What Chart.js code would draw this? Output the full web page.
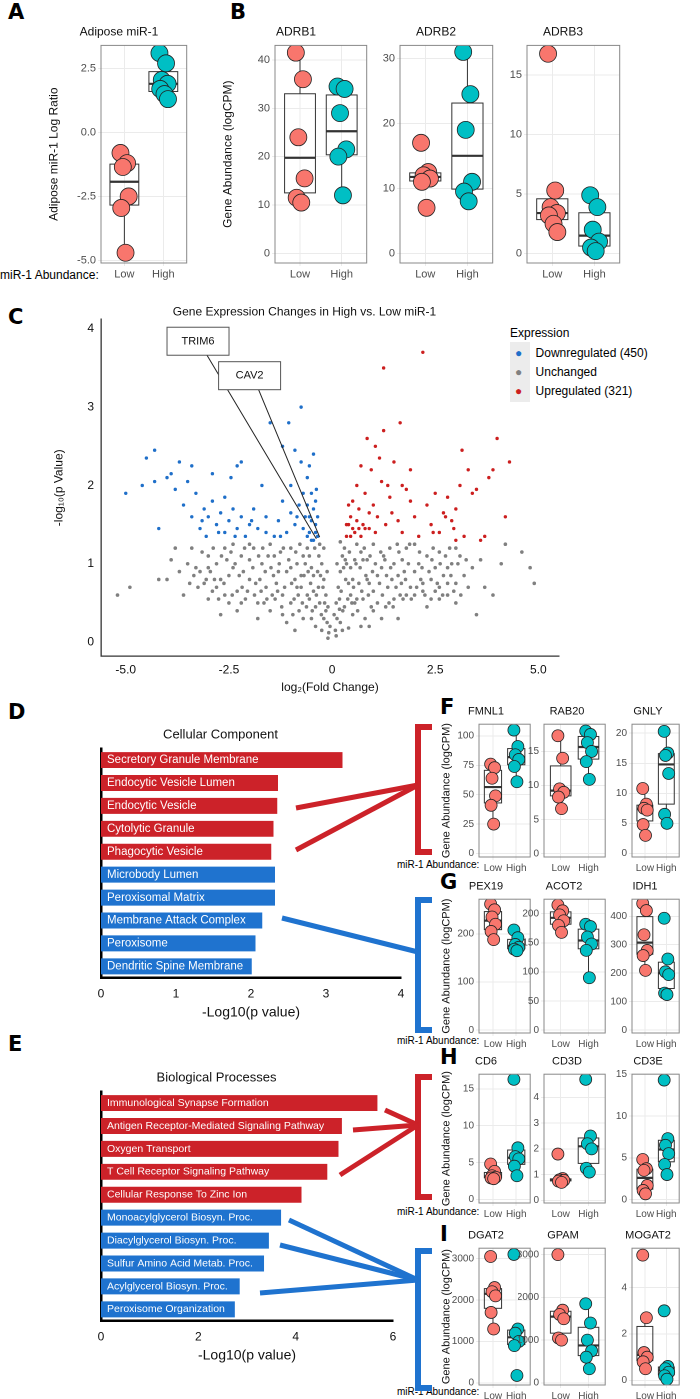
<!DOCTYPE html>
<html>
<head>
<meta charset="utf-8">
<script src="https://cdn.jsdelivr.net/npm/chart.js@4"></script>
<style>
  body { margin:0; width:700px; height:1399px; position:relative; background:#fff; font-family:"Liberation Sans", Arial, sans-serif; overflow:hidden; }
  canvas, .t { position:absolute; }
  .t { white-space:nowrap; color:#000; }
  .L { font-weight:bold; font-size:21px; font-family:"DejaVu Sans", sans-serif; }
</style>
</head>
<body>
<div class="t L" style="left:8px;top:0px">A</div>
<div class="t L" style="left:230px;top:0px">B</div>
<div class="t L" style="left:8px;top:305px">C</div>
<div class="t L" style="left:8px;top:700px">D</div>
<div class="t L" style="left:8px;top:1032px">E</div>
<div class="t L" style="left:440px;top:695px">F</div>
<div class="t L" style="left:440px;top:870px">G</div>
<div class="t L" style="left:440px;top:1045px">H</div>
<div class="t L" style="left:440px;top:1222px">I</div>
<div class="t" style="left:0px;top:268px;font-size:12px">miR-1 Abundance:</div>
<div class="t" style="left:397px;top:859px;font-size:10px">miR-1 Abundance:</div>
<div class="t" style="left:397px;top:1035px;font-size:10px">miR-1 Abundance:</div>
<div class="t" style="left:397px;top:1206px;font-size:10px">miR-1 Abundance:</div>
<div class="t" style="left:397px;top:1386px;font-size:10px">miR-1 Abundance:</div>
<!-- volcano legend -->
<div class="t" style="left:510px;top:326px;font-size:12px">Expression</div>
<div style="position:absolute;left:510px;top:342px;width:20px;height:60px;background:#ececec"></div>
<div class="t" style="left:515px;top:344px;font-size:12px;line-height:19px">
  <span style="color:#1f6fc9">&#9679;</span>&nbsp;&nbsp;&nbsp; Downregulated (450)<br>
  <span style="color:#808080">&#9679;</span>&nbsp;&nbsp;&nbsp; Unchanged<br>
  <span style="color:#cc1f1f">&#9679;</span>&nbsp;&nbsp;&nbsp; Upregulated (321)
</div>
<canvas id="deco" width="700" height="1399" style="left:0;top:0"></canvas>
<script>
// ---- box plot data (Low / High groups) ----
const groups = ['Low', 'High'];
const mir1Low = [-0.8, -1.2, -1.35, -2.5, -2.95, -4.7];
const mir1High = [3.1, 2.7, 2.05, 1.9, 1.7, 1.5, 1.3];
const adrb1Low = [41.5, 36, 24, 15.5, 11.5, 10.5];
const adrb1High = [34.5, 34, 29, 21.5, 20, 12];
const adrb2Low = [17, 12.5, 12, 11.5, 11, 7];
const adrb2High = [31, 24.5, 19, 11, 9.5, 8];
const adrb3Low = [16.8, 5.3, 3.9, 3.4, 3.2, 2.5, 1.8];
const adrb3High = [4.9, 3.9, 2, 1, 0.5, 0.2];
const fmnl1Low = [76, 73, 64, 49, 41, 25];
const fmnl1High = [105, 91, 84, 80, 74, 61];
const rab20Low = [17.3, 14, 9.5, 9, 8.3, 6.6];
const rab20High = [18, 17.5, 16.3, 15, 13.5, 10.9];
const gnlyLow = [10.8, 8.2, 7.5, 7.2, 4.8, 3];
const gnlyHigh = [20.3, 16.7, 16.3, 13.3, 6.5, 5];
const pex19Low = [262, 250, 235, 220, 205, 188];
const pex19High = [208, 192, 178, 172, 168, 165];
const acot2Low = [215, 205, 198, 188, 180, 168];
const acot2High = [182, 178, 160, 148, 137, 90];
const idh1Low = [445, 420, 335, 280, 262, 210];
const idh1High = [393, 250, 205, 195, 130, 125];
const cd6Low = [4.8, 3.8, 3.2, 3, 2.9, 2.8];
const cd6High = [16.3, 7, 5.8, 5.5, 4.5, 3.2];
const cd3dLow = [1.8, 0.85, 0.8, 0.78, 0.75, 0.7];
const cd3dHigh = [4.7, 2.5, 2.2, 2, 1.25, 1.1];
const cd3eLow = [4.8, 3.7, 3.5, 1.7, 1.1, 0.7];
const cd3eHigh = [14.3, 7.3, 6.5, 5.5, 4.2, 3];
const dgat2Low = [3050, 2300, 2200, 2100, 1700, 1300];
const dgat2High = [3100, 1300, 1200, 1000, 900, 180];
const gpamLow = [3000, 1700, 1600, 1500, 1050, 1000];
const gpamHigh = [1850, 1400, 1000, 750, 600, 330];
const mogat2Low = [5.4, 2.7, 1.2, 1.0, 0.8, 0.5];
const mogat2High = [3, 0.6, 0.5, 0.35, 0.2, 0.05];

// ---- volcano data [log2FC, -log10 p] ----
const unchangedPts = [-0.1,0.05, 0.1,0.08, -0.2,0.3, 0.2,0.25, -0.15,0.6, 0.15,0.7, -0.25,1.0, 0.25,1.1, -0.3,1.25, 0.3,1.2, -0.05,0.2, 0.05,0.35, -0.2,0.8, 0.2,0.9, -0.3,0.5, 0.3,0.45, -0.4,0.2, 0.4,0.18, -0.35,0.9, 0.35,1.0,
  -0.5,0.3, 0.5,0.35, -0.6,0.6, 0.6,0.55, -0.7,1.1, 0.7,1.15, -0.8,0.4, 0.8,0.3, -0.9,0.8, 0.9,0.75, -1.0,1.2, 1.0,1.25, -1.1,0.25, 1.1,0.5, -1.2,0.6, 1.2,0.95, -1.3,0.9, 1.3,0.45, -1.4,1.1, 1.4,1.2,
  -1.5,0.4, 1.5,0.55, -1.6,0.7, 1.6,0.85, -1.7,1.0, 1.7,1.05, -1.8,0.5, 1.8,0.6, -1.9,1.2, 1.9,0.7, -2.0,0.8, 2.0,0.9, -2.1,0.55, 2.1,1.0, -2.2,1.1, 2.2,0.65, -2.3,0.65, 2.3,1.1, -2.4,0.95, 2.4,0.8,
  -2.5,0.5, 2.5,0.95, -2.6,1.2, 2.6,0.7, -2.7,0.8, 2.7,0.85, -2.8,1.0, 2.8,0.6, -2.9,0.65, 2.9,1.0, -3.0,1.1, 3.0,0.75, -3.2,0.9, 3.1,1.1, -3.4,1.2, 3.3,0.7, -3.6,0.6, 3.5,0.35, -3.8,1.2, 3.7,0.7,
  -4.0,0.8, 3.9,0.6, -4.2,0.8, 4.1,1.0, -4.9,0.7, 4.2,1.25, -5.2,0.6, 4.6,1.15, -1.8,0.3, 4.8,0.95, 4.9,0.75, -2.7,0.35, 1.6,0.3, -0.9,0.15, 0.9,0.2, -1.5,1.25, 1.5,1.0, -0.5,0.95, 0.5,0.8, -0.6,1.2,
  0.6,1.25, -0.7,0.3, 0.7,0.2, -1.2,0.35, 1.2,0.3, 2.3,0.45, -2.3,0.4, -0.45,0.65, 0.45,0.6, -0.25,0.15, 0.25,0.15, -1.0,0.5, 1.0,0.65, -2.0,1.25, 2.0,1.25, 1.8,1.2, -3.0,0.55, 3.0,0.5, -0.85,1.0, 0.85,1.05,
  -1.35,0.75, 1.35,0.7, -1.65,0.5, 1.65,0.6, 2.6,0.55, -2.5,0.85, -3.3,0.95, 3.4,0.95, -0.1,0.45, 0.1,0.5, -0.12,0.9, 0.12,1.0, -0.2,1.2, 0.2,1.28, -0.4,0.45, 0.4,0.75, -0.55,1.1, 0.55,1.05, -0.75,0.7, 0.75,0.55,
  -0.95,0.35, 0.95,0.45, -1.1,0.9, 1.1,0.85, -1.25,1.15, 1.25,1.1, -1.45,0.6, 1.45,0.8, -1.75,0.8, 1.75,0.9, -2.15,0.9, 2.15,0.8, -2.45,1.15, 2.45,1.2, -2.85,0.8, 2.85,1.2, -3.1,0.75, 3.2,0.85, -3.5,1.0, 3.6,1.05,
  -0.15,0.4, 0.18,0.42, -0.22,0.7, 0.22,0.65, -0.28,0.85, 0.28,0.95, -0.32,1.1, 0.32,1.05, -0.38,0.6, 0.38,0.55, -0.42,1.2, 0.42,1.15, -0.48,0.4, 0.48,0.5, -0.52,0.75, 0.52,0.7, -0.58,0.9, 0.58,1.0, -0.62,0.45, 0.62,0.4,
  -0.68,0.85, 0.68,0.95, -0.72,0.5, 0.72,0.65, -0.78,1.25, 0.78,1.2, -0.82,0.6, 0.82,0.85, -0.88,1.15, 0.88,0.6, -0.92,0.55, 0.92,1.1, -0.98,0.75, 0.98,0.9, -1.05,1.05, 1.05,1.0, -1.15,0.7, 1.15,0.75, -1.22,0.45, 1.22,0.6,
  -1.28,1.0, 1.28,1.05, -1.38,0.55, 1.38,0.5, -1.42,0.85, 1.42,0.95, -1.55,1.1, 1.55,0.7, -1.62,0.9, 1.62,1.15, -1.72,0.65, 1.72,0.55, -1.78,1.1, 1.78,0.8, -1.85,0.75, 1.85,1.0, -1.92,0.95, 1.92,0.55, -2.05,0.65, 2.05,0.7,
  -2.12,1.2, 2.12,1.15, -2.18,0.7, 2.18,0.95, -2.25,0.85, 2.25,0.6, -2.35,1.0, 2.35,0.9, -2.42,0.6, 2.42,1.05, -2.55,1.05, 2.55,0.75, -2.62,0.75, 2.62,1.0, -2.68,1.1, 2.68,0.6, -2.75,0.55, 2.75,1.1, -2.88,1.2, 2.88,0.85,
  -2.95,0.9, 2.95,0.65, -3.05,0.8, 3.05,1.0, -3.15,1.15, 3.12,0.6, -3.25,0.7, 3.25,1.05, -3.35,0.85, 2.5,0.65, -3.45,0.75, 2.8,0.75, -3.7,0.9, -3.9,1.05, -0.08,0.12, 0.08,0.15, -0.12,0.25, 0.12,0.3, -0.18,0.5, 0.18,0.55,
  -0.26,0.35, 0.26,0.4, -0.33,0.7, 0.33,0.8, -0.45,0.85, 0.45,0.95, -0.55,0.55, 0.55,0.5, -0.65,1.0, 0.65,0.75, -0.75,0.85, 0.75,1.05, -0.85,0.7, 0.85,0.8, -1.0,0.95, 1.0,0.4, -1.18,1.2, 1.18,1.15, -1.32,0.65, 1.32,0.85,
  -1.48,0.95, 1.48,0.45, -1.58,0.55, 1.58,1.25, -1.68,1.2, 1.68,0.75, -1.88,0.6, 1.88,1.25, -2.0,1.05, 2.0,0.6, -2.2,0.5, 2.2,0.75, -2.4,1.25, 2.4,0.55, -2.6,0.6, 2.6,1.15, -2.8,0.7, 2.8,0.95, -3.0,0.95, 3.0,1.2];
const downPts = [-0.35,1.35, -0.4,1.5, -0.45,1.7, -0.5,1.9, -0.55,1.4, -0.6,2.1, -0.4,1.8, -0.5,1.55, -0.65,1.6, -0.7,1.45, -0.8,1.75, -0.75,2.3, -0.9,1.5, -1.0,1.65, -1.1,1.4, -1.2,1.8, -1.3,1.55, -1.0,2.0, -0.9,2.45, -1.05,2.8,
  -1.5,2.8, -1.2,2.5, -0.75,3.0, -1.6,1.6, -1.8,1.45, -1.9,1.7, -2.0,1.5, -2.1,1.35, -2.2,1.6, -2.3,1.45, -2.4,1.7, -2.5,1.55, -2.6,1.4, -2.7,1.65, -2.8,1.5, -2.9,1.8, -3.0,1.6, -3.1,1.7, -3.2,1.45, -3.3,1.9,
  -3.4,1.6, -3.5,2.05, -3.6,1.75, -3.7,2.3, -3.8,1.95, -4.0,2.1, -4.2,1.45, -4.3,2.45, -4.5,2.35, -4.6,2.0, -5.0,1.9, -2.2,2.3, -2.3,2.25, -1.7,2.0, -1.4,1.35, -0.55,2.25, -0.45,2.4, -0.6,1.75, -0.35,1.6, -2.9,2.15,
  -3.4,2.25, -2.6,1.85, -1.6,1.4, -1.25,1.35, -2.45,2.1, -3.05,1.35, -3.9,2.15, -4.3,2.05, -0.38,1.95, -0.5,1.3, -0.4,1.4, -0.45,1.3, -0.6,1.35, -0.7,1.9, -0.85,1.6, -2.75,1.4, -3.15,1.55, -2.35,1.35, -1.95,1.55, -0.55,1.6];
const upPts = [0.35,1.35, 0.4,1.5, 0.45,1.6, 0.5,1.8, 0.55,1.4, 0.6,2.0, 0.65,1.7, 0.7,2.25, 0.75,1.5, 0.8,1.9, 0.85,2.6, 0.9,1.45, 1.0,1.75, 1.05,2.5, 1.1,1.6, 1.2,2.05, 1.25,2.7, 1.3,1.5, 1.4,1.85, 1.5,2.3,
  1.6,1.55, 1.65,2.8, 1.7,1.4, 1.8,1.95, 1.9,2.2, 2.0,1.6, 2.1,1.35, 2.2,3.7, 1.25,3.5, 2.3,1.75, 2.4,1.5, 2.5,1.9, 2.6,1.4, 2.7,1.65, 2.8,1.85, 2.9,1.55, 3.0,1.7, 3.1,2.0, 3.2,1.35, 3.15,2.45,
  3.3,2.2, 3.5,1.95, 3.6,1.3, 3.7,1.35, 3.8,2.1, 3.9,2.2, 4.0,2.6, 4.2,1.6, 4.3,2.3, 3.4,1.9, 0.95,2.2, 1.15,2.35, 0.6,1.55, 0.4,1.75, 0.5,1.45, 1.35,2.0, 1.45,1.65, 2.75,1.6, 2.95,1.45, 0.7,1.35,
  1.7,2.0, 3.0,1.3, 2.45,1.4, 1.9,1.8, 0.8,1.45, 0.35,1.5, 0.45,1.35, 0.65,1.45, 0.9,1.65, 1.05,1.4];

// ---- enrichment bars ----
const ccTerms = ['Secretory Granule Membrane', 'Endocytic Vesicle Lumen', 'Endocytic Vesicle', 'Cytolytic Granule', 'Phagocytic Vesicle',
  'Microbody Lumen', 'Peroxisomal Matrix', 'Membrane Attack Complex', 'Peroxisome', 'Dendritic Spine Membrane'];
const ccValues = [3.22, 2.36, 2.35, 2.3, 2.27, 2.32, 2.32, 2.15, 2.06, 2.01];
const ccUp = [true, true, true, true, true, false, false, false, false, false];
const bpTerms = ['Immunological Synapse Formation', 'Antigen Receptor-Mediated Signaling Pathway', 'Oxygen Transport', 'T Cell Receptor Signaling Pathway',
  'Cellular Response To Zinc Ion', 'Monoacylglycerol Biosyn. Proc.', 'Diacylglycerol Biosyn. Proc.', 'Sulfur Amino Acid Metab. Proc.', 'Acylglycerol Biosyn. Proc.', 'Peroxisome Organization'];
const bpValues = [5.68, 4.95, 4.88, 4.65, 4.12, 3.7, 3.45, 3.35, 2.85, 2.75];
const bpUp = [true, true, true, true, true, false, false, false, false, false];

const LOW_COL = '#F8766D', HIGH_COL = '#00BFC4', RED = '#cc2229', BLUE = '#1f73cf';
const JIT = [-0.1, 0.07, -0.04, 0.11, -0.08, 0.03, 0.12];
const FONT = '"Liberation Sans", Arial, sans-serif';
Chart.defaults.font.family = FONT;
Chart.defaults.color = '#4d4d4d';
Chart.defaults.animation = false;

function quant(v, p) {
  const h = (v.length - 1) * p, lo = Math.floor(h);
  return lo + 1 < v.length ? v[lo] + (h - lo) * (v[lo + 1] - v[lo]) : v[lo];
}
function stepTicks(min, max, step) {
  const out = [];
  for (let v = Math.ceil(min / step - 1e-9) * step; v <= max + 1e-9; v += step) out.push({ value: Math.round(v * 1000) / 1000 });
  return out;
}

const boxPlugin = {
  id: 'box',
  beforeDatasetsDraw(c) {
    const { ctx, scales: { x, y } } = c;
    c.data.datasets.forEach(d => {
      const v = d.raw.slice().sort((a, b) => a - b);
      const q1 = quant(v, 0.25), q2 = quant(v, 0.5), q3 = quant(v, 0.75), iqr = q3 - q1;
      const lo = v.find(t => t >= q1 - 1.5 * iqr), hi = v.filter(t => t <= q3 + 1.5 * iqr).pop();
      const xc = x.getPixelForValue(d.center), hw = x.getPixelForValue(d.center + 0.37) - xc;
      ctx.save();
      ctx.strokeStyle = '#333'; ctx.lineWidth = 1;
      ctx.beginPath();
      ctx.moveTo(xc, y.getPixelForValue(q3)); ctx.lineTo(xc, y.getPixelForValue(hi));
      ctx.moveTo(xc, y.getPixelForValue(q1)); ctx.lineTo(xc, y.getPixelForValue(lo));
      ctx.stroke();
      ctx.strokeRect(xc - hw, y.getPixelForValue(q3), 2 * hw, y.getPixelForValue(q1) - y.getPixelForValue(q3));
      ctx.lineWidth = 2.2;
      ctx.beginPath(); ctx.moveTo(xc - hw, y.getPixelForValue(q2)); ctx.lineTo(xc + hw, y.getPixelForValue(q2)); ctx.stroke();
      ctx.restore();
    });
  }
};
const framePlugin = {
  id: 'frame',
  afterDraw(c) {
    const a = c.chartArea, ctx = c.ctx;
    ctx.save(); ctx.strokeStyle = '#888'; ctx.lineWidth = 1;
    ctx.strokeRect(a.left, a.top, a.right - a.left, a.bottom - a.top); ctx.restore();
  }
};

function addCanvas(left, top, w, h) {
  const cv = document.createElement('canvas');
  cv.style.left = left + 'px'; cv.style.top = top + 'px';
  cv.style.width = w + 'px'; cv.style.height = h + 'px';
  document.body.insertBefore(cv, document.getElementById('deco'));
  return cv;
}

function boxChart(o) {
  const yw = o.yw, fs = o.fs, th = fs * 1.2 + 8, xh = fs + 10;
  const cv = addCanvas(o.L - yw, o.T - th, o.W + yw + 4, o.H + th + xh);
  const mk = (vals, center, col) => ({
    raw: vals, center: center,
    data: vals.map((v, i) => ({ x: center + JIT[i % JIT.length], y: v })),
    backgroundColor: col, borderColor: '#222', borderWidth: 0.8, pointRadius: o.r
  });
  new Chart(cv, {
    type: 'scatter',
    data: { datasets: [mk(o.low, 1, LOW_COL), mk(o.high, 2, HIGH_COL)] },
    options: {
      responsive: false, devicePixelRatio: 2,
      layout: { padding: { right: 4, left: 0, top: 0, bottom: 0 } },
      plugins: {
        legend: { display: false }, tooltip: { enabled: false },
        title: { display: true, text: o.title, color: '#111', font: { size: fs + 1, weight: 'normal', lineHeight: 1.2 }, padding: { top: 2, bottom: 6 } }
      },
      scales: {
        x: {
          type: 'linear', min: 0.4, max: 2.6,
          afterBuildTicks: s => { s.ticks = [{ value: 1 }, { value: 2 }]; },
          ticks: { callback: v => groups[v - 1], font: { size: fs }, padding: 2 },
          grid: { color: '#ebebeb', tickLength: 3 }, border: { display: false },
          afterFit: s => { s.height = xh; }
        },
        y: {
          min: o.min, max: o.max,
          afterBuildTicks: s => { s.ticks = stepTicks(o.min, o.max, o.step); },
          ticks: { callback: v => v.toFixed(o.dec || 0), font: { size: fs }, padding: 2 },
          grid: { color: '#ebebeb', tickLength: 3 }, border: { display: false },
          title: { display: !!o.yTitle, text: o.yTitle, color: '#111', font: { size: fs + 1 }, padding: 1 },
          afterFit: s => { s.width = yw; }
        }
      }
    },
    plugins: [boxPlugin, framePlugin]
  });
}

// A and B
boxChart({ L: 101, T: 44, W: 91, H: 219, yw: 55, fs: 11, r: 8.5, title: 'Adipose miR-1', low: mir1Low, high: mir1High, min: -5.1, max: 3.4, step: 2.5, dec: 1, yTitle: 'Adipose miR-1 Log Ratio' });
boxChart({ L: 275, T: 44, W: 97, H: 219, yw: 55, fs: 11, r: 8.5, title: 'ADRB1', low: adrb1Low, high: adrb1High, min: -2, max: 43, step: 10, yTitle: 'Gene Abundance (logCPM)' });
boxChart({ L: 400, T: 44, W: 98, H: 219, yw: 26, fs: 11, r: 8.5, title: 'ADRB2', low: adrb2Low, high: adrb2High, min: -1.5, max: 32, step: 10 });
boxChart({ L: 527, T: 44, W: 98, H: 219, yw: 26, fs: 11, r: 8.5, title: 'ADRB3', low: adrb3Low, high: adrb3High, min: -0.8, max: 17.5, step: 5 });
// F
boxChart({ L: 479, T: 723, W: 54, H: 134, yw: 40, fs: 10, r: 6, title: 'FMNL1', low: fmnl1Low, high: fmnl1High, min: -3, max: 110, step: 25, yTitle: 'Gene Abundance (logCPM)' });
boxChart({ L: 544, T: 723, W: 64, H: 134, yw: 18, fs: 10, r: 6, title: 'RAB20', low: rab20Low, high: rab20High, min: -0.5, max: 19, step: 5 });
boxChart({ L: 632, T: 723, W: 50, H: 134, yw: 18, fs: 10, r: 6, title: 'GNLY', low: gnlyLow, high: gnlyHigh, min: -0.6, max: 21.5, step: 5 });
// G
boxChart({ L: 479, T: 898, W: 54, H: 135, yw: 40, fs: 10, r: 6, title: 'PEX19', low: pex19Low, high: pex19High, min: -6, max: 272, step: 100, yTitle: 'Gene Abundance (logCPM)' });
boxChart({ L: 544, T: 898, W: 64, H: 135, yw: 24, fs: 10, r: 6, title: 'ACOT2', low: acot2Low, high: acot2High, min: -5, max: 225, step: 50 });
boxChart({ L: 632, T: 898, W: 50, H: 135, yw: 24, fs: 10, r: 6, title: 'IDH1', low: idh1Low, high: idh1High, min: -10, max: 460, step: 100 });
// H
boxChart({ L: 479, T: 1073, W: 54, H: 130, yw: 40, fs: 10, r: 6, title: 'CD6', low: cd6Low, high: cd6High, min: -0.5, max: 17, step: 5, yTitle: 'Gene Abundance (logCPM)' });
boxChart({ L: 544, T: 1073, W: 64, H: 130, yw: 18, fs: 10, r: 6, title: 'CD3D', low: cd3dLow, high: cd3dHigh, min: -0.1, max: 4.9, step: 1 });
boxChart({ L: 632, T: 1073, W: 50, H: 130, yw: 18, fs: 10, r: 6, title: 'CD3E', low: cd3eLow, high: cd3eHigh, min: -0.4, max: 15, step: 5 });
// I
boxChart({ L: 479, T: 1247, W: 54, H: 138, yw: 40, fs: 10, r: 6, title: 'DGAT2', low: dgat2Low, high: dgat2High, min: -50, max: 3250, step: 1000, yTitle: 'Gene Abundance (logCPM)' });
boxChart({ L: 544, T: 1247, W: 64, H: 138, yw: 26, fs: 10, r: 6, title: 'GPAM', low: gpamLow, high: gpamHigh, min: -50, max: 3150, step: 1000 });
boxChart({ L: 632, T: 1247, W: 50, H: 138, yw: 18, fs: 10, r: 6, title: 'MOGAT2', low: mogat2Low, high: mogat2High, min: -0.2, max: 5.7, step: 2 });

// C volcano
const pairs = a => { const out = []; for (let i = 0; i < a.length; i += 2) out.push({ x: a[i], y: a[i + 1] }); return out; };
const calloutPlugin = {
  id: 'callout',
  afterDatasetsDraw(c) {
    const { ctx, scales: { x, y } } = c;
    const labels = [
      { text: 'TRIM6', bx: -4.0, by: 4.02, w: 62, tx: -0.38, ty: 1.32 },
      { text: 'CAV2', bx: -2.75, by: 3.58, w: 62, tx: -0.3, ty: 1.34 }
    ];
    ctx.save();
    labels.forEach(l => {
      const px = x.getPixelForValue(l.bx), py = y.getPixelForValue(l.by);
      ctx.strokeStyle = '#222'; ctx.lineWidth = 1;
      ctx.beginPath(); ctx.moveTo(px + 40, py + 28); ctx.lineTo(x.getPixelForValue(l.tx), y.getPixelForValue(l.ty)); ctx.stroke();
      ctx.fillStyle = '#fff'; ctx.fillRect(px, py, l.w, 28);
      ctx.strokeStyle = '#555'; ctx.strokeRect(px, py, l.w, 28);
      ctx.fillStyle = '#111'; ctx.font = '11px ' + FONT; ctx.textAlign = 'center'; ctx.textBaseline = 'middle';
      ctx.fillText(l.text, px + l.w / 2, py + 14);
    });
    ctx.restore();
  }
};
const vol = addCanvas(50, 303, 520, 392);
new Chart(vol, {
  type: 'scatter',
  data: {
    datasets: [
      { data: pairs(unchangedPts), backgroundColor: '#808080', pointRadius: 1.8, borderWidth: 0 },
      { data: pairs(downPts), backgroundColor: '#1f6fc9', pointRadius: 1.7, borderWidth: 0 },
      { data: pairs(upPts), backgroundColor: '#cc1f1f', pointRadius: 1.7, borderWidth: 0 }
    ]
  },
  options: {
    responsive: false, devicePixelRatio: 2,
    layout: { padding: { right: 11 } },
    plugins: {
      legend: { display: false }, tooltip: { enabled: false },
      title: { display: true, text: 'Gene Expression Changes in High vs. Low miR-1', color: '#111', font: { size: 12, weight: 'normal' }, padding: { top: 2, bottom: 0 } }
    },
    scales: {
      x: {
        type: 'linear', min: -5.6, max: 5.5,
        afterBuildTicks: s => { s.ticks = [-5, -2.5, 0, 2.5, 5].map(v => ({ value: v })); },
        ticks: { callback: v => v === 0 ? '0' : v.toFixed(1), color: '#111', font: { size: 12 } },
        grid: { display: false, drawTicks: true, tickLength: 4 },
        border: { color: '#333', width: 1.3 },
        title: { display: true, text: 'log\u2082(Fold Change)', color: '#111', font: { size: 12 }, padding: 0 }
      },
      y: {
        min: -0.18, max: 4.12,
        afterBuildTicks: s => { s.ticks = stepTicks(0, 4, 1); },
        ticks: { color: '#111', font: { size: 12 } },
        grid: { display: false, tickLength: 4 },
        border: { color: '#333', width: 1.3 },
        title: { display: true, text: '-log\u2081\u2080(p Value)', color: '#111', font: { size: 12 }, padding: 2 },
        afterFit: s => { s.width = 51; }
      }
    }
  },
  plugins: [calloutPlugin]
});

// D / E enrichment bars
const barLabelPlugin = {
  id: 'barLabels',
  afterDatasetsDraw(c) {
    const { ctx, scales: { x, y } } = c;
    ctx.save();
    ctx.fillStyle = '#fff'; ctx.font = c.options.labelFont + 'px ' + FONT; ctx.textBaseline = 'middle';
    c.data.labels.forEach((t, i) => ctx.fillText(t, x.getPixelForValue(0) + 6, y.getPixelForValue(i)));
    ctx.restore();
  }
};
function barChart(top, h, padR, labelFont, title, terms, vals, up, xmax, step) {
  const cv = addCanvas(40, top, 385, h);
  new Chart(cv, {
    type: 'bar',
    data: { labels: terms, datasets: [{ data: vals, backgroundColor: up.map(u => u ? RED : BLUE), categoryPercentage: 0.85, barPercentage: 0.82 }] },
    options: {
      indexAxis: 'y', responsive: false, devicePixelRatio: 2, labelFont: labelFont,
      layout: { padding: { right: padR } },
      plugins: {
        legend: { display: false }, tooltip: { enabled: false },
        title: { display: true, text: title, color: '#111', font: { size: 13, weight: 'normal' }, padding: { top: 0, bottom: 6 } }
      },
      scales: {
        x: {
          min: 0, max: xmax,
          ticks: { stepSize: step, color: '#111', font: { size: 12 } },
          grid: { display: false, drawTicks: true, tickLength: 6, tickColor: '#000', tickWidth: 2 },
          border: { color: '#000', width: 2.5 },
          title: { display: true, text: '-Log10(p value)', color: '#111', font: { size: 14 }, padding: 0 }
        },
        y: {
          ticks: { display: false },
          grid: { display: false, drawTicks: true, tickLength: 7, tickColor: '#000', tickWidth: 2 },
          border: { color: '#000', width: 2.5 },
          afterFit: s => { s.width = 61; }
        }
      }
    },
    plugins: [barLabelPlugin]
  });
}
barChart(727, 294, 24, 11.5, 'Cellular Component', ccTerms, ccValues, ccUp, 4, 1);
barChart(1070, 294, 32, 10.5, 'Biological Processes', bpTerms, bpValues, bpUp, 6, 2);

// brackets and connector lines
const d = document.getElementById('deco').getContext('2d');
function bracket(col, top, bot) {
  d.strokeStyle = col; d.lineWidth = 6; d.lineCap = 'butt';
  d.beginPath(); d.moveTo(432, top); d.lineTo(418, top); d.lineTo(418, bot); d.lineTo(432, bot); d.stroke();
}
function fan(col, tip, starts) {
  d.strokeStyle = col; d.lineWidth = 5;
  starts.forEach(s => { d.beginPath(); d.moveTo(s[0], s[1]); d.lineTo(tip[0], tip[1]); d.stroke(); });
}
bracket(RED, 727, 852); fan(RED, [418, 785], [[296, 808], [296, 850]]);
bracket(BLUE, 900, 1030); fan(BLUE, [418, 952], [[282, 918]]);
bracket(RED, 1077, 1197); fan(RED, [418, 1125], [[385, 1110], [353, 1130], [340, 1175]]);
bracket(BLUE, 1251, 1388); fan(BLUE, [418, 1280], [[289, 1220], [280, 1245], [260, 1293]]);
</script>
</body>
</html>
